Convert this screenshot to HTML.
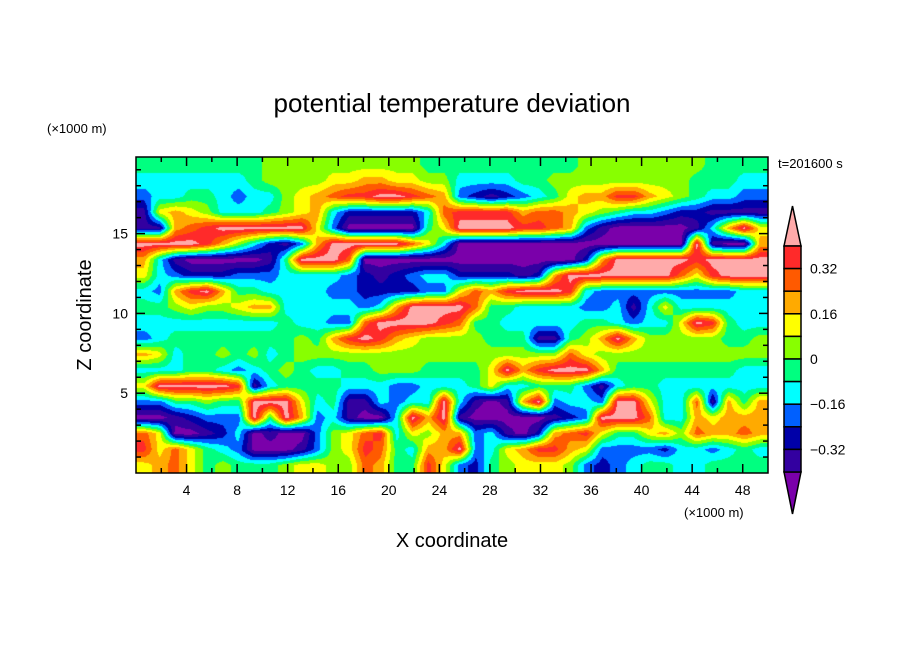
<!DOCTYPE html>
<html><head><meta charset="utf-8"><style>
body{margin:0;background:#fff;}
#wrap{position:relative;width:904px;height:654px;overflow:hidden;background:#fff;font-family:"Liberation Sans",sans-serif;}
svg{position:absolute;left:0;top:0;}
canvas{position:absolute;left:136px;top:157px;}
</style></head><body>
<div id="wrap">
<canvas id="field" width="632" height="316"></canvas>
<svg id="svg" width="904" height="654"></svg>
</div>
<script>
// level codes a..l => bins of 0.08 from <-0.40 to >0.40
const levelMids = [-0.44,-0.36,-0.28,-0.20,-0.12,-0.04,0.04,0.12,0.20,0.28,0.36,0.44];
const levelColors = ["#7a00aa","#3300a0","#0000a8","#0060ff","#00ffff","#00ff80","#88ff00","#ffff00","#ffaa00","#ff5a00","#ff2a2a","#ffaaaa"];
const levelBounds = [-0.40,-0.32,-0.24,-0.16,-0.08,0,0.08,0.16,0.24,0.32,0.40];
const xTicks = [4,8,12,16,20,24,28,32,36,40,44,48];
const yTicks = [5,10,15];
const cbLabels = ["0.32","0.16","0","\u22120.16","\u22120.32"];
const cbLabelValues = [0.32,0.16,0,-0.16,-0.32];
const xRange = [0,50];
const zRange = [0,19.8];
// field rows, top (z high) to bottom, 40 columns each
const fieldRows = [
"ffffffffggggggggggffffffffffggggggggffff",
"eeeeeeefgggghhiihhggeeeeffgggggggggfffee",
"deeffedeeghijkkllkjidcbcdefhiikkihgfeedd",
"bhihgeeefghiecccccejkkkkijjihgfeedccbbbb",
"bbijkllllllhdaaaaafhllllkkjidbaaaaabeilh",
"llllkigecbdillllljheaaaaaaaaaaaaaaalbaai",
"iebaaaaabflllj" + "aaaaaa" + "aaaaaaaacilllllkllll",
"hedcccdddeeeedcbcdeeccccbcillllllljhklll",
"edikliffeeeeddccccddhjiklllkedddddddddee",
"ffghgghiieeeeedeilllljffeeeeddebeheeeeee",
"eeeeeeeeefeeddjllllkjffeeeeeffedeehlkfee",
"deffffffffgfiklkihggggfffbbfgiligggggffg",
"iheffgfgefgggggggggggggggggjhggggggggggg",
"eeeffedefgfeeffgggffffhlikllliffffffffee",
"hlllllkbeffffeeeddeeefheefffdbeffeeeeeee",
"ddffgfflllhefbbedeelebabildeedllheejbifi",
"aabcdddlflidebaaelilbaaaaabcdllljeeihiii",
"jhaabceabaadghjkehgiidebacijkhffhigjiiji",
"khjhfedaaabdghkjfeiildehikkihddddceedefe",
"hijhfgfffghhggjiffkhdcfghhhgdcdeffeeffff"
];
</script>
<script>
const NCOLS = 40;
const grid = fieldRows.map(r => {
  let s = r.replace(/\s/g,'');
  if (s.length > NCOLS) s = s.slice(0, NCOLS);
  while (s.length < NCOLS) s += s[s.length-1];
  return Array.from(s).map(ch => levelMids[ch.charCodeAt(0)-97]);
});
const NROWS = grid.length;
const PX0=136, PX1=768, PY0=157, PY1=473;
const xScale = v => PX0 + (v - xRange[0])/(xRange[1]-xRange[0])*(PX1-PX0);
const yScale = v => PY1 - (v - zRange[0])/(zRange[1]-zRange[0])*(PY1-PY0);
function hex(c){return [parseInt(c.substr(1,2),16),parseInt(c.substr(3,2),16),parseInt(c.substr(5,2),16)];}
const rgbLevels = levelColors.map(hex);
(function(){
  const cv=document.getElementById('field'); const ctx=cv.getContext('2d');
  const W=cv.width,H=cv.height; const img=ctx.createImageData(W,H);
  const cw=W/NCOLS, ch=H/NROWS;
  for(let y=0;y<H;y++){
    let gy=(y+0.5)/ch-0.5; gy=Math.max(0,Math.min(NROWS-1,gy));
    const r0=Math.floor(gy), r1=Math.min(NROWS-1,r0+1), fy=gy-r0;
    for(let x=0;x<W;x++){
      let gx=(x+0.5)/cw-0.5; gx=Math.max(0,Math.min(NCOLS-1,gx));
      const c0=Math.floor(gx), c1=Math.min(NCOLS-1,c0+1), fx=gx-c0;
      const v=(grid[r0][c0]*(1-fx)+grid[r0][c1]*fx)*(1-fy)+(grid[r1][c0]*(1-fx)+grid[r1][c1]*fx)*fy;
      let k=0; while(k<levelBounds.length && v>=levelBounds[k]) k++;
      const c=rgbLevels[k]; const i=(y*W+x)*4;
      img.data[i]=c[0];img.data[i+1]=c[1];img.data[i+2]=c[2];img.data[i+3]=255;
    }
  }
  ctx.putImageData(img,0,0);
})();
const svg=document.getElementById('svg'); const NS='http://www.w3.org/2000/svg';
function el(tag,attrs,txt){const e=document.createElementNS(NS,tag);for(const k in attrs)e.setAttribute(k,attrs[k]);if(txt!==undefined)e.textContent=txt;svg.appendChild(e);return e;}
let e;
e=el('rect',{x:PX0,y:PY0,width:PX1-PX0,height:PY1-PY0,fill:'none',stroke:'#000','stroke-width':1.5});


for(let v=2;v<50;v+=2){
  const maj=v%4===0; const L=maj?9:5; const x=xScale(v);
  e=el('line',{x1:x,y1:PY1,x2:x,y2:PY1-L,stroke:'#000','stroke-width':1.5});
  
  
  e=el('line',{x1:x,y1:PY0,x2:x,y2:PY0+L,stroke:'#000','stroke-width':1.5});
  
  
}
xTicks.forEach(v=>{
  e=el('text',{x:xScale(v),y:495,'text-anchor':'middle','font-size':14},String(v));
  
  
});
for(let v=1;v<20;v++){
  const maj=v%5===0; const L=maj?9:5; const y=yScale(v);
  e=el('line',{x1:PX0,y1:y,x2:PX0+L,y2:y,stroke:'#000','stroke-width':1.5});
  
  
  e=el('line',{x1:PX1,y1:y,x2:PX1-L,y2:y,stroke:'#000','stroke-width':1.5});
  
  
}
yTicks.forEach(v=>{
  e=el('text',{x:128,y:yScale(v)+5,'text-anchor':'end','font-size':14},String(v));
  
  
});
e=el('text',{x:452,y:112,'text-anchor':'middle','font-size':26},'potential temperature deviation');


e=el('text',{x:47,y:133,'font-size':13},'(\u00d71000 m)');


e=el('text',{x:684,y:517,'font-size':13},'(\u00d71000 m)');


e=el('text',{x:452,y:547,'text-anchor':'middle','font-size':20},'X coordinate');


e=el('text',{x:0,y:0,'text-anchor':'middle','font-size':20,transform:'translate(91,315) rotate(-90)'},'Z coordinate');


e=el('text',{x:778,y:168,'font-size':13},'t=201600 s');


const CBX=784, CBW=17, CBT=246, CBB=472, nBox=10, bh=(CBB-CBT)/nBox;
const cbY = v => CBT + (0.40 - v)/0.08*bh;
e=el('polygon',{points:`${CBX},${CBT} ${CBX+CBW/2},206 ${CBX+CBW},${CBT}`,fill:levelColors[11],stroke:'#000','stroke-width':1.5});


e=el('polygon',{points:`${CBX},${CBB} ${CBX+CBW/2},514 ${CBX+CBW},${CBB}`,fill:levelColors[0],stroke:'#000','stroke-width':1.5});


for(let i=0;i<nBox;i++){
  e=el('rect',{x:CBX,y:CBT+i*bh,width:CBW,height:bh,fill:levelColors[10-i],stroke:'#000','stroke-width':1.5});
  
  
}
cbLabels.forEach((t,i)=>{
  e=el('text',{x:810,y:cbY(cbLabelValues[i])+5,'font-size':14},t);
  
  
});
</script>
</body></html>
